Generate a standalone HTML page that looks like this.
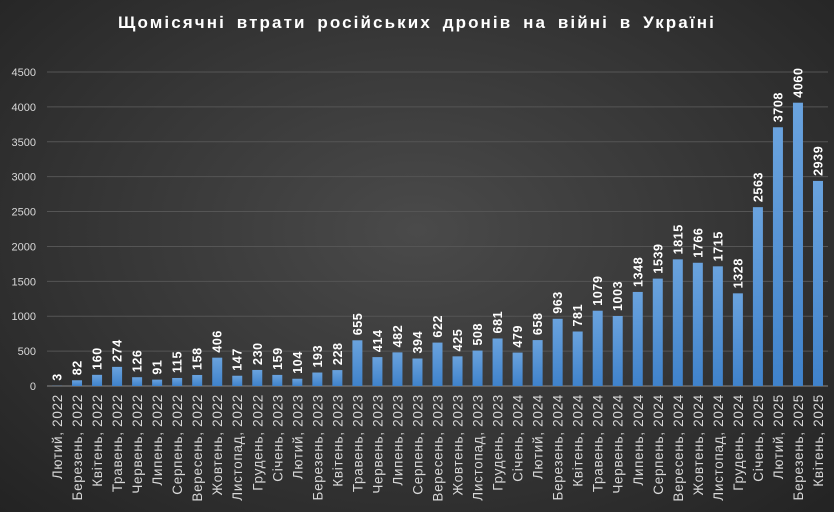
<!DOCTYPE html>
<html><head><meta charset="utf-8"><style>
html,body{margin:0;padding:0}
body{width:834px;height:512px;overflow:hidden;background:radial-gradient(ellipse at 50% 45%,#4a4a4a 0%,#353535 55%,#232323 100%);font-family:"Liberation Sans","DejaVu Sans",sans-serif}
svg{display:block}
</style></head><body>
<svg id="chart" width="834" height="512" xmlns="http://www.w3.org/2000/svg">
<defs><linearGradient id="bg" x1="0" y1="0" x2="0" y2="1"><stop offset="0" stop-color="#6aa3de"/><stop offset="1" stop-color="#3f82cb"/></linearGradient></defs>
<text x="417" y="28" text-anchor="middle" fill="#ffffff" font-size="17" font-weight="bold" letter-spacing="2.1" word-spacing="4">Щомісячні втрати російських дронів на війні в Україні</text>
<g id="grid"></g><g id="bars"></g>
</svg>
<script>
const categories=["Лютий, 2022","Березень, 2022","Квітень, 2022","Травень, 2022","Червень, 2022","Липень, 2022","Серпень, 2022","Вересень, 2022","Жовтень, 2022","Листопад, 2022","Грудень, 2022","Січень, 2023","Лютий, 2023","Березень, 2023","Квітень, 2023","Травень, 2023","Червень, 2023","Липень, 2023","Серпень, 2023","Вересень, 2023","Жовтень, 2023","Листопад, 2023","Грудень, 2023","Січень, 2024","Лютий, 2024","Березень, 2024","Квітень, 2024","Травень, 2024","Червень, 2024","Липень, 2024","Серпень, 2024","Вересень, 2024","Жовтень, 2024","Листопад, 2024","Грудень, 2024","Січень, 2025","Лютий, 2025","Березень, 2025","Квітень, 2025"];
const values=[3,82,160,274,126,91,115,158,406,147,230,159,104,193,228,655,414,482,394,622,425,508,681,479,658,963,781,1079,1003,1348,1539,1815,1766,1715,1328,2563,3708,4060,2939];
const ticks=[0,500,1000,1500,2000,2500,3000,3500,4000,4500];
const NS="http://www.w3.org/2000/svg";
const x0=47,x1=828,y0=386,y1=72,maxV=4500;
const step=(x1-x0)/categories.length;
function xScale(i){return x0+step*(i+0.5);}
function yScale(v){return y0-(v/maxV)*(y0-y1);}
function mk(t,a){const e=document.createElementNS(NS,t);for(const k in a)e.setAttribute(k,a[k]);return e;}
const grid=document.getElementById('grid'),bars=document.getElementById('bars');
ticks.forEach(t=>{
  const y=yScale(t);
  const l=mk('line',{x1:x0,x2:x1,y1:y,y2:y,stroke:t===0?'#8a8a8a':'#555555','stroke-width':1});
  
  
  grid.appendChild(l);
  const tx=mk('text',{x:36,y:y+4,'text-anchor':'end',fill:'#d8d8d8','font-size':11});
  
  
  tx.textContent=t;grid.appendChild(tx);
});
values.forEach((v,i)=>{
  const cx=xScale(i),y=yScale(v),w=10;
  const r=mk('rect',{x:cx-w/2,y:y,width:w,height:y0-y,fill:'url(#bg)'});
  
  
  bars.appendChild(r);
  const vl=mk('text',{transform:`translate(${cx+4.5},${y-5}) rotate(-90)`,fill:'#ffffff','font-size':12.5,'font-weight':'bold','letter-spacing':0.6});
  
  
  vl.textContent=v;bars.appendChild(vl);
  const cl=mk('text',{transform:`translate(${cx+5},${y0+8}) rotate(-90)`,'text-anchor':'end',fill:'#d8d8d8','font-size':13.5,'letter-spacing':0.7});
  
  
  cl.textContent=categories[i];bars.appendChild(cl);
});
</script>
</body></html>
